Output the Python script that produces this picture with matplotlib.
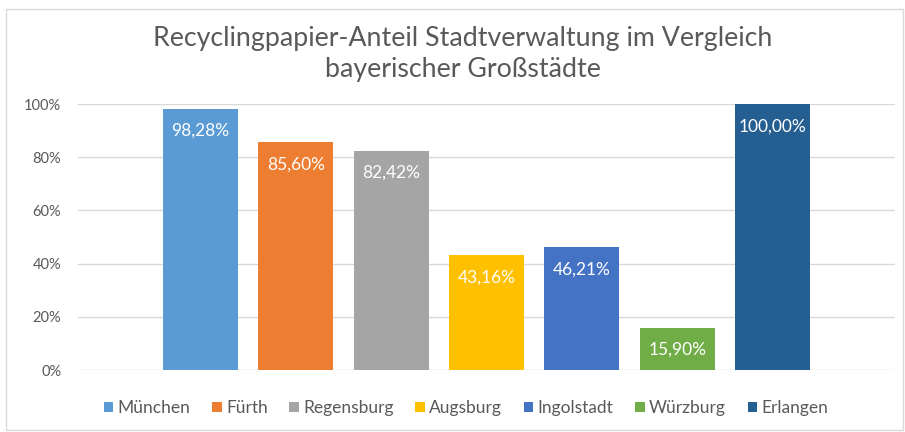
import matplotlib
matplotlib.use("Agg")
import matplotlib.pyplot as plt
from matplotlib.patches import Rectangle, Patch
from matplotlib.ticker import FuncFormatter

cities = ["München", "Fürth", "Regensburg", "Augsburg", "Ingolstadt", "Würzburg", "Erlangen"]
values = [98.28, 85.60, 82.42, 43.16, 46.21, 15.90, 100.00]
colors = ["#5B9BD5", "#ED7D31", "#A5A5A5", "#FFC000", "#4472C4", "#70AD47", "#255E91"]
yticks = [0, 20, 40, 60, 80, 100]
title = "Recyclingpapier-Anteil Stadtverwaltung im Vergleich\nbayerischer Großstädte"

plt.rcParams['font.family'] = ['Lato', 'DejaVu Sans']

W, H = 905, 432
fig = plt.figure(figsize=(W / 100, H / 100), dpi=100)
fig.patch.set_facecolor("white")

# outer chart border
fig.add_artist(Rectangle((6 / W, 2 / H), 897 / W, 421 / H, transform=fig.transFigure,
                         fill=False, edgecolor="#D9D9D9", linewidth=1.0))

ax = fig.add_axes([78 / W, 62 / H, 817 / W, 266 / H])
x = list(range(len(cities)))
bars = ax.bar(x, values, width=75 / 95.5, color=colors, zorder=3)
ax.set_xlim(-1.283, 6 + 1.283)
ax.set_ylim(0, 100)
ax.set_yticks(yticks)
ax.yaxis.set_major_formatter(FuncFormatter(lambda v, p: f"{v:.0f}%"))
ax.tick_params(axis="y", length=0, labelsize=10.5, labelcolor="#595959", pad=12)
ax.set_xticks([])
ax.grid(axis="y", color="#D9D9D9", linewidth=1.0, zorder=0)
for s in ax.spines.values():
    s.set_visible(False)

for b, v in zip(bars, values):
    ax.annotate(f"{v:.2f}%".replace(".", ","), (b.get_x() + b.get_width() / 2, v),
                xytext=(0, -16), textcoords="offset points", ha="center", va="center",
                color="white", fontsize=12.5)

fig.text(463 / W, 1 - 54 / H, title, ha="center", va="center", fontsize=19.3,
         color="#595959", linespacing=1.32)

handles = [Patch(facecolor=c, edgecolor="none") for c in colors]
fig.legend(handles, cities, loc="center", bbox_to_anchor=(466 / W, 1 - 408 / H), ncol=7,
           frameon=False, fontsize=12.5, labelcolor="#595959", handlelength=0.55,
           handleheight=0.55, handletextpad=0.25, columnspacing=1.25)

fig.savefig("out.png", dpi=100)
